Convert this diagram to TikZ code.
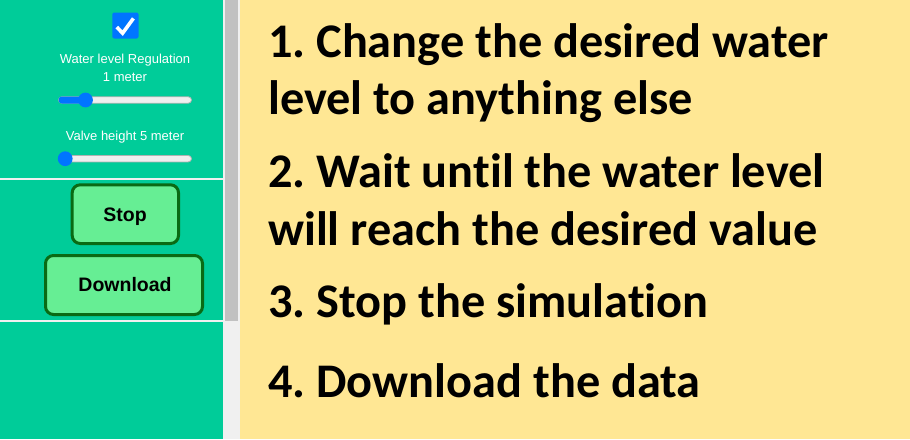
\documentclass[tikz,border=0pt]{standalone}
\usepackage{fontspec}
\setmainfont{Carlito}[Ligatures={NoCommon}]
\newfontfamily\arialf{Liberation Sans}
\frenchspacing
\definecolor{panelgreen}{HTML}{00CC99}
\definecolor{paneyellow}{HTML}{FFE794}
\definecolor{scrollgray}{HTML}{C1C1C1}
\definecolor{lightgray}{HTML}{F0F0F0}
\definecolor{btnfill}{HTML}{66EE94}
\definecolor{btnstroke}{HTML}{0A6A14}
\definecolor{thumbblue}{HTML}{0075FF}
\definecolor{trackfill}{HTML}{EFEFEF}
\definecolor{trackedge}{HTML}{B2B2B2}
\tikzset{
  smalltxt/.style={text=white,font=\arialf\fontsize{13}{15}\selectfont,anchor=base,inner sep=0pt},
  btnbox/.style={draw=btnstroke,line width=3pt,fill=btnfill,rounded corners=8pt},
  btntxt/.style={text=black,font=\arialf\bfseries\fontsize{19.5}{22}\selectfont,anchor=base,inner sep=0pt},
  bigtxt/.style={text=black,font=\frenchspacing\bfseries\fontsize{48.3}{56}\selectfont,anchor=base west,inner sep=0pt},
  track/.style={fill=trackfill,draw=trackedge,line width=0.8pt,rounded corners=3.2pt},
  thumb/.style={fill=thumbblue,draw=none}
}
\begin{document}
\begin{tikzpicture}[x=1pt,y=-1pt]
\useasboundingbox (0,0) rectangle (910,439);
% backgrounds
\fill[lightgray] (0,0) rectangle (240,439);
\fill[paneyellow] (240,0) rectangle (910,439);
\fill[panelgreen] (0,0) rectangle (223,178.3);
\fill[panelgreen] (0,180) rectangle (223,320.3);
\fill[panelgreen] (0,322) rectangle (223,439);
\fill[scrollgray] (225,0) rectangle (238,320.5);
% checkbox
\fill[thumbblue,rounded corners=2pt] (112.3,12.5) rectangle (138.5,38.5);
\draw[white,line width=3.6pt] (116.8,27) -- (122.6,33.2) -- (133.4,18.4);
% labels
\node[smalltxt] (lbl1) at (125,63) {Water level Regulation};
\node[smalltxt] (lbl2) at (125,81) {1 meter};
\node[smalltxt] (lbl3) at (125,140) {Valve height 5 meter};
% slider 1
\draw[track] (58.5,96.8) rectangle (191.5,103.2);
\fill[thumbblue,rounded corners=3.2pt] (58.5,96.5) rectangle (86,103.5);
\fill[thumb] (85.5,100) circle (7.4);
% slider 2
\draw[track] (58.5,155.5) rectangle (191.5,161.9);
\fill[thumb] (65.2,158.7) circle (7.4);
% buttons
\draw[btnbox] (72.2,184.8) rectangle (178.5,243.5);
\node[btntxt] (stop) at (125,221.5) {Stop};
\draw[btnbox] (45.5,255.5) rectangle (202.5,314.5);
\node[btntxt] (download) at (125,291.5) {Download};
% instructions
\node[bigtxt] (l1) at (268,57) {1. Change the desired water};
\node[bigtxt] (l2) at (268,114) {level to anything else};
\node[bigtxt] (l3) at (268,187) {2. Wait until the water level};
\node[bigtxt] (l4) at (268,245.5) {will reach the desired value};
\node[bigtxt] (l5) at (268,317) {3. Stop the simulation};
\node[bigtxt] (l6) at (268,397) {4. Download the data};
\end{tikzpicture}
\end{document}
